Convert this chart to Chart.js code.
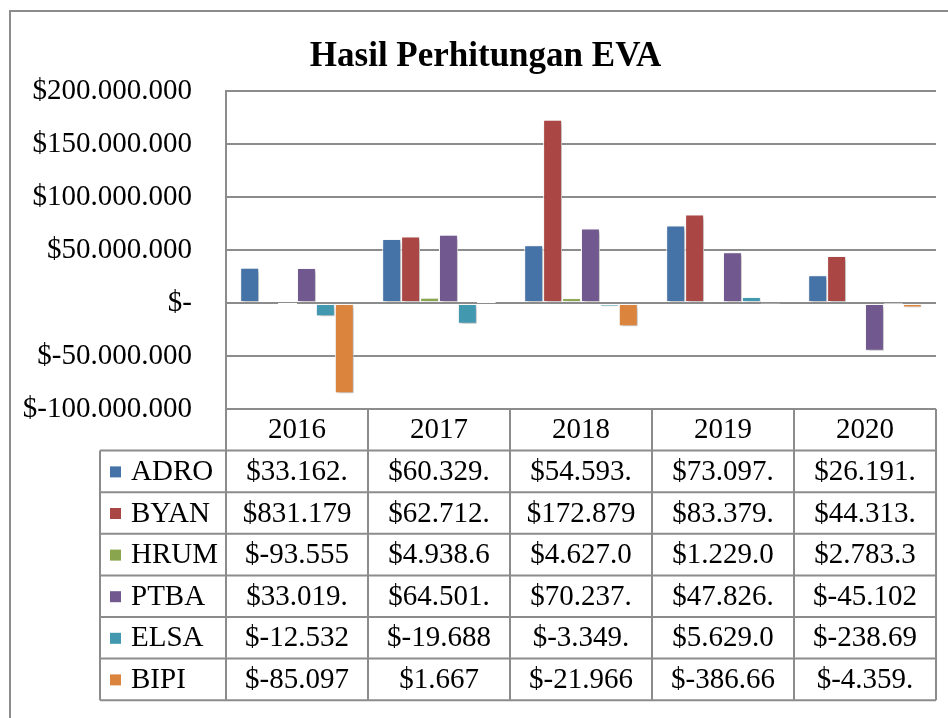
<!DOCTYPE html>
<html>
<head>
<meta charset="utf-8">
<script src="https://cdn.jsdelivr.net/npm/chart.js@4.4.1/dist/chart.umd.min.js"></script>
<style>
  html, body { margin: 0; padding: 0; background: #fff; overflow: hidden; width: 948px; height: 718px; }
  #frame { position: absolute; left: 9px; top: 10px; width: 1000px; height: 800px; border: 2px solid #8c8c8c; }
  #c { position: absolute; left: 0; top: 0; }
</style>
</head>
<body>
<div id="frame"></div>
<canvas id="c" width="961" height="718"></canvas>
<script>
const years = ['2016', '2017', '2018', '2019', '2020'];
const seriesNames = ['ADRO', 'BYAN', 'HRUM', 'PTBA', 'ELSA', 'BIPI'];

const adro = [33162000, 60329000, 54593000, 73097000, 26191000];
const byan = [831179, 62712000, 172879000, 83379000, 44313000];
const hrum = [-93555, 4938600, 4627000, 1229000, 2783300];
const ptba = [33019000, 64501000, 70237000, 47826000, -45102000];
const elsa = [-12532000, -19688000, -3349000, 5629000, -238690];
const bipi = [-85097000, 1667, -21966000, -386660, -4359000];

const yMin = -100000000;
const yMax = 200000000;
const yStep = 50000000;

const colors = ['#4572A7', '#AA4643', '#89A54E', '#71588F', '#4198AF', '#DB843D'];
const gridColor = '#8c8c8c';
const font = 'Liberation Serif';

const fmt = v => {
  if (v === 0) return '$-';
  const s = Math.abs(Math.round(v)).toString().replace(/\B(?=(\d{3})+(?!\d))/g, '.');
  return '$' + (v < 0 ? '-' : '') + s;
};

const seriesData = [adro, byan, hrum, ptba, elsa, bipi];

const barShadow = {
  id: 'barShadow',
  beforeDatasetsDraw(chart) {
    const ctx = chart.ctx;
    ctx.save();
    ctx.shadowColor = 'rgba(0,0,0,0.28)';
    ctx.shadowBlur = 4;
    ctx.shadowOffsetX = 2;
    ctx.shadowOffsetY = 2;
  },
  afterDatasetsDraw(chart) {
    chart.ctx.restore();
  }
};

// let the long y labels run past the left padding without being clipped
const wideLabels = {
  id: 'wideLabels',
  afterLayout(chart) {
    chart.scales.y.left = 0;
  }
};

// data table under the plot, Excel style
const dataTable = {
  id: 'dataTable',
  afterDraw(chart) {
    const {ctx, chartArea} = chart;
    const rowH = 41.6;
    const top = chartArea.bottom;
    const legendLeft = 100;
    const catW = (chartArea.right - chartArea.left) / years.length;
    const rows = seriesNames.length + 1;

    ctx.save();
    ctx.strokeStyle = gridColor;
    ctx.lineWidth = 2;
    ctx.beginPath();
    for (let r = 1; r <= rows; r++) {
      const y = top + r * rowH;
      ctx.moveTo(legendLeft, y);
      ctx.lineTo(chartArea.right, y);
    }
    for (let c = 0; c <= years.length; c++) {
      const x = chartArea.left + c * catW;
      ctx.moveTo(x, top);
      ctx.lineTo(x, top + rows * rowH);
    }
    ctx.moveTo(legendLeft, top + rowH);
    ctx.lineTo(legendLeft, top + rows * rowH);
    ctx.stroke();

    ctx.fillStyle = '#000';
    ctx.font = `29px "${font}"`;
    ctx.textBaseline = 'middle';
    ctx.textAlign = 'center';
    years.forEach((yr, c) => {
      ctx.fillText(yr, chartArea.left + (c + 0.5) * catW, top + rowH / 2 + 1);
    });

    seriesNames.forEach((name, r) => {
      const cy = top + (r + 1.5) * rowH + 1;
      ctx.fillStyle = colors[r];
      ctx.fillRect(110, cy - 6, 11, 11);
      ctx.fillStyle = '#000';
      ctx.textAlign = 'left';
      ctx.fillText(name, 131, cy);
      ctx.textAlign = 'center';
      seriesData[r].forEach((v, c) => {
        ctx.fillText(fmt(v).slice(0, 8), chartArea.left + (c + 0.5) * catW, cy);
      });
    });
    ctx.restore();
  }
};

const config = {
  type: 'bar',
  data: {
    labels: years,
    datasets: seriesNames.map((name, i) => ({
      label: name,
      data: seriesData[i],
      backgroundColor: colors[i],
      borderColor: '#ffffff',
      borderWidth: 1,
      borderSkipped: false,
      categoryPercentage: 0.8,
      barPercentage: 1.0,
    })),
  },
  options: {
    responsive: false,
    animation: false,
    devicePixelRatio: 1,
    layout: {padding: {left: 35, right: 25, top: 0, bottom: 309}},
    scales: {
      x: {display: false},
      y: {
        min: yMin,
        max: yMax,
        afterFit: scale => { scale.width = 191; },
        ticks: {
          stepSize: yStep,
          padding: 34,
          color: '#000',
          font: {family: font, size: 29},
          callback: v => fmt(v),
        },
        grid: {color: gridColor, lineWidth: 2, drawTicks: false},
        border: {display: true, color: gridColor, width: 2},
      },
    },
    plugins: {
      legend: {display: false},
      tooltip: {enabled: false},
      title: {
        display: true,
        text: 'Hasil Perhitungan EVA',
        color: '#000',
        font: {family: font, size: 35, weight: 'bold'},
        padding: {top: 36, bottom: 13},
      },
    },
  },
  plugins: [barShadow, wideLabels, dataTable],
};

new Chart(document.getElementById('c'), config);
</script>
</body>
</html>
